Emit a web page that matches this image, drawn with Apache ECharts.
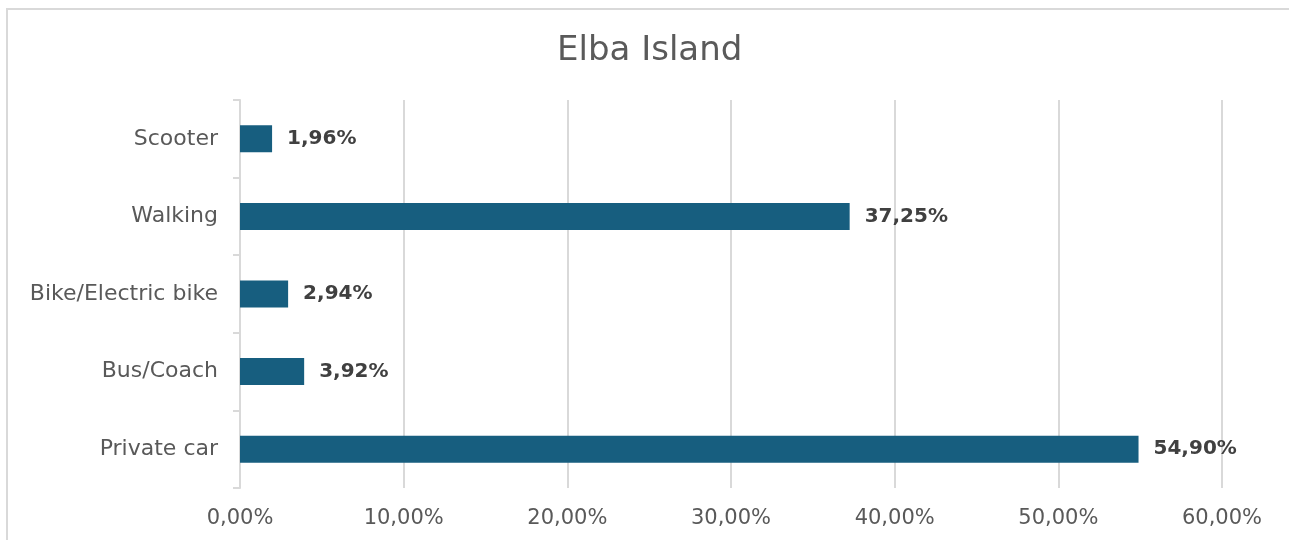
<!DOCTYPE html>
<html>
<head>
<meta charset="utf-8">
<script src="https://cdn.jsdelivr.net/npm/echarts@6/dist/echarts.min.js"></script>
<style>
html,body{margin:0;padding:0;background:#fff;}
#chart{width:1289px;height:540px;}
</style>
</head>
<body>
<div id="chart"></div>
<script>
const title = 'Elba Island';
const categories = ['Private car', 'Bus/Coach', 'Bike/Electric bike', 'Walking', 'Scooter'];
const values = [54.90, 3.92, 2.94, 37.25, 1.96];
const xTicks = { min: 0, max: 60, interval: 10 };

const fmt = v => v.toFixed(2).replace('.', ',') + '%';
const FONT = '"DejaVu Sans", sans-serif';

const chart = echarts.init(document.getElementById('chart'));
chart.setOption({
  animation: false,
  backgroundColor: '#fff',
  graphic: [{
    type: 'rect',
    shape: { x: 7, y: 9, width: 1400, height: 700 },
    style: { fill: 'none', stroke: '#d9d9d9', lineWidth: 2 },
    silent: true
  }],
  title: {
    text: title,
    left: 552,
    top: 29,
    textStyle: { fontFamily: FONT, fontSize: 34, fontWeight: 'normal', color: '#5a5a5a' }
  },
  grid: { left: 240, right: 67, top: 100, bottom: 52, containLabel: false },
  xAxis: {
    type: 'value',
    min: xTicks.min, max: xTicks.max, interval: xTicks.interval,
    axisLine: { show: false },
    axisTick: { show: false },
    splitLine: { show: true, lineStyle: { color: '#d9d9d9', width: 2 } },
    axisLabel: {
      margin: 20,
      formatter: v => fmt(v),
      fontFamily: FONT, fontSize: 21, color: '#595959'
    }
  },
  yAxis: {
    type: 'category',
    data: categories,
    axisLine: { show: true, lineStyle: { color: '#d9d9d9', width: 2 } },
    axisTick: { show: true, length: 7, lineStyle: { color: '#d9d9d9', width: 2 } },
    axisLabel: { margin: 22, fontFamily: FONT, fontSize: 22, color: '#595959' }
  },
  series: [{
    type: 'bar',
    data: values,
    barWidth: 27,
    itemStyle: { color: '#175e7f' },
    label: {
      show: true,
      position: 'right',
      distance: 15,
      formatter: p => fmt(p.value),
      fontFamily: FONT, fontSize: 20, fontWeight: 'bold', color: '#404040'
    }
  }]
});
</script>
</body>
</html>
